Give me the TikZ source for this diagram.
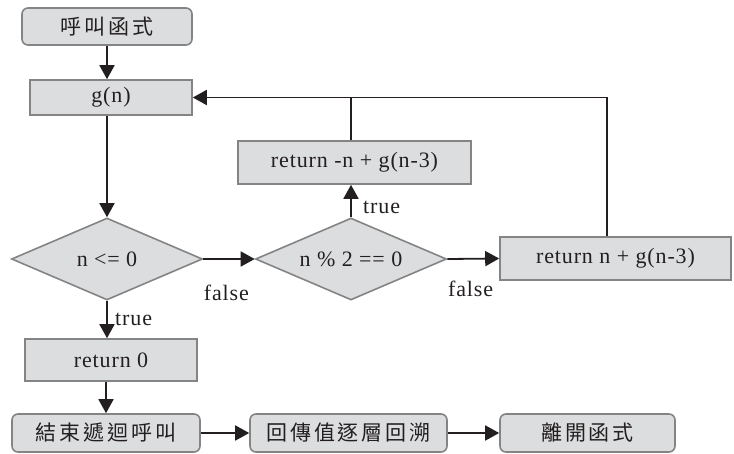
\documentclass[tikz,border=0pt]{standalone}
\usepackage{fontspec}
\setmainfont{Liberation Serif}[LetterSpace=4]
\newfontfamily\cjk{Noto Sans CJK TC}[LetterSpace=14]
\usetikzlibrary{shapes.geometric,arrows.meta}

\definecolor{boxfill}{RGB}{220,221,223}
\definecolor{boxline}{RGB}{132,132,132}
\definecolor{ink}{RGB}{35,31,32}

\begin{document}
\begin{tikzpicture}[x=1pt,y=-1pt,
		box/.style={draw=boxline,fill=boxfill,line width=1.6pt,inner sep=0pt,
			text=ink,font=\fontsize{22}{24}\selectfont},
		roundbox/.style={box,rounded corners=6pt,font=\cjk\fontsize{21}{24}\selectfont},
		test/.style={box,shape=diamond,aspect=2.33,minimum width=191pt,minimum height=82pt},
		flow/.style={draw=ink,line width=1.8pt,-{Triangle[length=14pt,width=15pt]}},
		tag/.style={text=ink,font=\fontsize{22}{24}\selectfont}]
		\useasboundingbox (0,0) rectangle (734,453);

		\node[roundbox,minimum width=170pt,minimum height=37pt] (call) at (107,26.5) {呼叫函式};
		\node[box,minimum width=162pt,minimum height=35pt] (gn) at (111,97.5) {g(n)};
		\node[test] (le) at (107,259) {n <= 0};
		\node[test] (odd) at (351,259) {n \% 2 == 0};
		\node[box,minimum width=233pt,minimum height=43pt] (retneg) at (354.5,162.5) {return -n + g(n-3)};
		\node[box,minimum width=231pt,minimum height=43pt] (retpos) at (615.5,258.5) {return n + g(n-3)};
		\node[box,minimum width=172pt,minimum height=42pt] (ret0) at (111,360) {return 0};

		% 下排
		\node[roundbox,minimum width=188pt,minimum height=38pt] (stop) at (106,433) {結束遞迴呼叫};
		\node[roundbox,minimum width=197pt,minimum height=38pt] (back) at (348.5,433) {回傳值逐層回溯};
		\node[roundbox,minimum width=175pt,minimum height=38pt] (leave) at (587.5,433) {離開函式};

		\coordinate (turn) at (607,97.5);

		\draw[flow] (call.south) -- (call.south |- gn.north);
		\draw[flow] (le |- gn.south) -- (le.north);
		\draw[flow] (le.east) -- (odd.west) node[tag,pos=0.45,below=22pt] {false};
		\draw[flow] (odd.east) -- (retpos.west) node[tag,pos=0.45,below=18pt] {false};
		\draw[flow] (odd.north) -- (odd.north |- retneg.south) node[tag,pos=0.3,right=8pt] {true};
		\draw[draw=ink,line width=1.8pt] (retneg.north -| odd) -- (odd |- gn.east);
		\draw[flow] (retpos.north -| turn) -- (turn) -- (gn.east);
		\draw[flow] (le.south) -- (le.south |- ret0.north) node[tag,pos=0.5,right=4pt] {true};
		\draw[flow] (stop |- ret0.south) -- (stop.north);
		\draw[flow] (stop.east) -- (back.west);
		\draw[flow] (back.east) -- (leave.west);
	\end{tikzpicture}
\end{document}
